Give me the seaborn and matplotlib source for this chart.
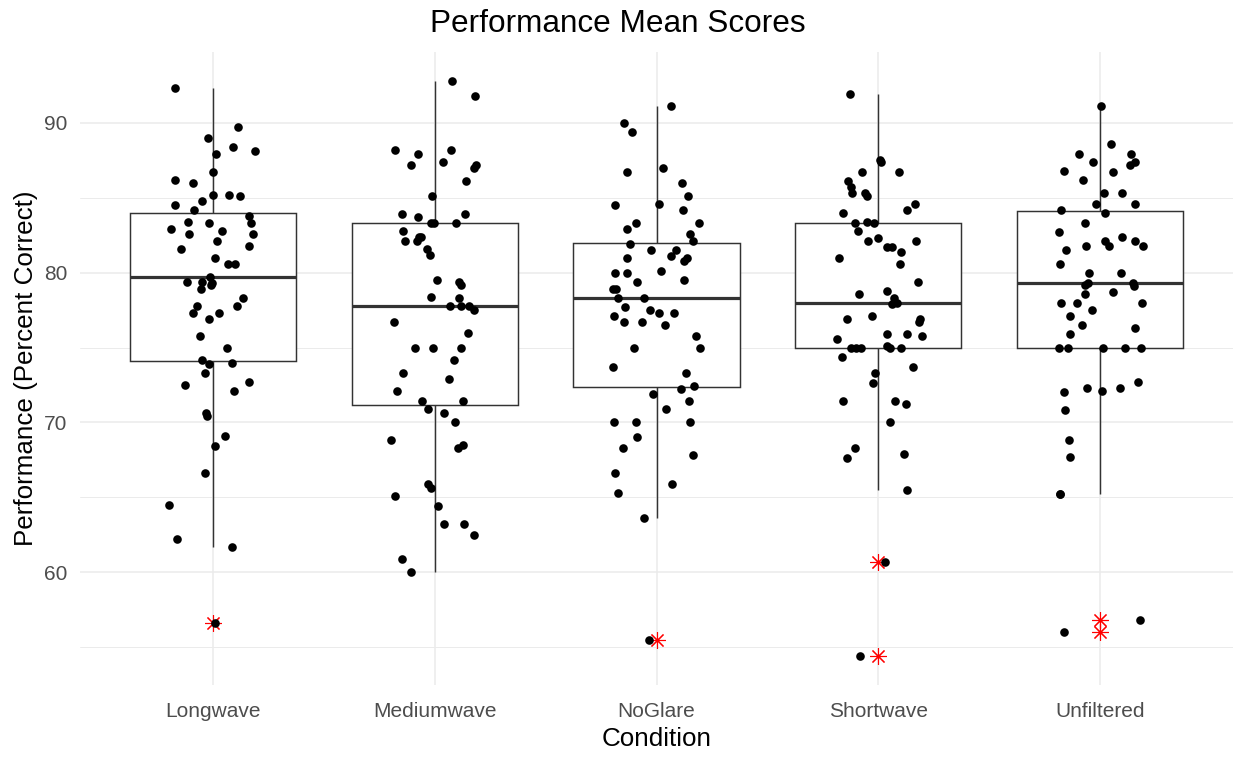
import numpy as np
import pandas as pd
import matplotlib
matplotlib.use("Agg")
import matplotlib.pyplot as plt
import seaborn as sns
from matplotlib.ticker import MultipleLocator

# Per-participant mean performance (percent correct) for each filter condition
conditions = ["Longwave", "Mediumwave", "NoGlare", "Shortwave", "Unfiltered"]

longwave = [92.3, 89.7, 89.0, 88.4, 88.1, 87.9, 86.7, 86.2, 86.0, 85.2, 85.2, 85.1,
            84.8, 84.5, 84.2, 83.8, 83.4, 83.3, 83.3, 82.9, 82.8, 82.6, 82.6, 82.1,
            81.8, 81.6, 81.0, 80.6, 80.6, 79.7, 79.4, 79.3, 79.4, 79.2, 78.9, 78.3,
            77.8, 77.8, 77.3, 77.3, 76.9, 75.8, 75.0, 74.2, 73.9, 74.0, 73.3, 72.7,
            72.5, 72.1, 70.6, 70.4, 69.1, 68.4, 66.6, 64.5, 62.2, 61.7, 56.6]

mediumwave = [92.8, 91.8, 88.2, 88.2, 87.9, 87.4, 87.2, 87.2, 87.0, 86.1, 85.1, 83.9,
              83.9, 83.7, 83.3, 83.3, 83.3, 82.8, 82.4, 82.4, 82.1, 82.1, 81.6, 81.2,
              79.4, 79.2, 79.5, 78.4, 78.3, 77.8, 77.8, 77.8, 77.5, 76.7, 76.0, 75.0,
              75.0, 75.0, 74.2, 73.3, 72.9, 72.1, 71.4, 71.4, 70.9, 70.6, 70.0, 68.5,
              68.3, 68.8, 65.9, 65.6, 65.1, 64.4, 63.2, 63.2, 62.5, 60.9, 60.0]

noglare = [91.1, 90.0, 89.4, 87.0, 86.7, 86.0, 85.1, 84.5, 84.6, 84.2, 83.3, 83.3,
           82.9, 82.6, 82.1, 81.9, 81.5, 81.5, 81.0, 81.0, 81.1, 80.8, 80.1, 80.0,
           80.0, 79.4, 79.5, 78.9, 78.9, 78.3, 78.3, 77.7, 77.1, 77.3, 77.3, 77.5,
           76.7, 76.7, 76.5, 75.8, 75.0, 75.0, 73.7, 73.3, 72.4, 71.9, 72.2, 71.4,
           70.9, 70.0, 70.0, 70.0, 69.0, 68.3, 67.8, 66.6, 65.9, 65.3, 63.6, 55.5]

shortwave = [91.9, 87.5, 87.4, 86.7, 86.7, 86.1, 85.7, 85.3, 85.1, 85.3, 84.6, 84.2,
             84.0, 83.4, 83.3, 83.3, 82.8, 82.3, 82.1, 82.1, 81.7, 81.7, 81.4, 81.0,
             80.6, 79.4, 78.8, 78.6, 78.3, 78.0, 77.9, 76.9, 76.9, 76.7, 77.1, 75.9,
             75.6, 75.8, 75.9, 75.0, 75.0, 75.0, 75.0, 75.0, 75.1, 74.4, 73.7, 73.3,
             72.6, 71.4, 71.4, 71.2, 70.0, 68.3, 67.9, 67.6, 65.5, 60.7, 54.4]

unfiltered = [91.1, 88.6, 87.9, 87.9, 87.4, 87.4, 87.2, 86.8, 86.7, 86.2, 85.3, 85.3,
              84.6, 84.6, 84.2, 84.0, 83.3, 82.7, 82.4, 82.1, 82.1, 81.8, 81.8, 81.8,
              81.5, 80.6, 80.0, 80.0, 79.3, 79.3, 79.2, 79.1, 78.7, 78.6, 78.0, 78.0,
              78.0, 77.5, 77.1, 76.5, 76.3, 75.9, 75.0, 75.0, 75.0, 75.0, 75.0, 72.7,
              72.3, 72.3, 72.1, 72.0, 70.8, 68.8, 67.7, 65.2, 65.2, 56.8, 56.0]

scores = [longwave, mediumwave, noglare, shortwave, unfiltered]
df = pd.DataFrame({
    "Condition": np.repeat(conditions, [len(s) for s in scores]),
    "Score": np.concatenate(scores),
})

sns.set_theme(style="white")
plt.rcParams["font.family"] = ["Liberation Sans", "DejaVu Sans"]

W, H = 1235, 761
fig = plt.figure(figsize=(W / 100, H / 100), dpi=100)
ax = fig.add_axes([80 / W, 1 - 685 / H, 1153 / W, 633 / H])

grid = "#EBEBEB"
ax.set_axisbelow(True)

sns.boxplot(
    data=df, x="Condition", y="Score", order=conditions,
    color="white", linecolor="#333333", linewidth=1.05, width=0.75,
    whis=1.5, showcaps=False, fliersize=12,
    flierprops=dict(marker=(8, 2, 0), markeredgecolor="red",
                    markerfacecolor="red", markeredgewidth=0.8),
    medianprops=dict(linewidth=2.3, color="#333333"),
    ax=ax,
)

np.random.seed(7)
sns.stripplot(
    data=df, x="Condition", y="Score", order=conditions,
    color="black", size=6.2, jitter=0.2, linewidth=0, ax=ax, zorder=4,
)

# y range padded by 5% of the data span on each side
lo, hi = df["Score"].min(), df["Score"].max()
pad = 0.05 * (hi - lo)
ax.set_ylim(lo - pad, hi + pad)
ax.set_xlim(-0.6, len(conditions) - 0.4)

ax.yaxis.set_major_locator(MultipleLocator(10))
ax.yaxis.set_minor_locator(MultipleLocator(5))
ax.grid(which="major", axis="both", color=grid, linewidth=1.1)
ax.grid(which="minor", axis="y", color=grid, linewidth=0.7)

for s in ax.spines.values():
    s.set_visible(False)

ax.tick_params(axis="both", which="both", length=0, labelsize=15,
               labelcolor="#4D4D4D")
ax.tick_params(axis="y", pad=9)
ax.tick_params(axis="x", pad=12)

ax.set_xlabel("Condition", fontsize=18.7, color="black")
ax.set_ylabel("Performance (Percent Correct)", fontsize=18.7, color="black")
ax.xaxis.set_label_coords(0.5, (685 - 727) / 633)
ax.yaxis.set_label_coords((38 - 80) / 1153, 0.5)

fig.text(0.5, 1 - 24 / H, "Performance Mean Scores", ha="center", va="center",
         fontsize=22.7, color="black")

fig.savefig("out.png", dpi=100, facecolor="white")
